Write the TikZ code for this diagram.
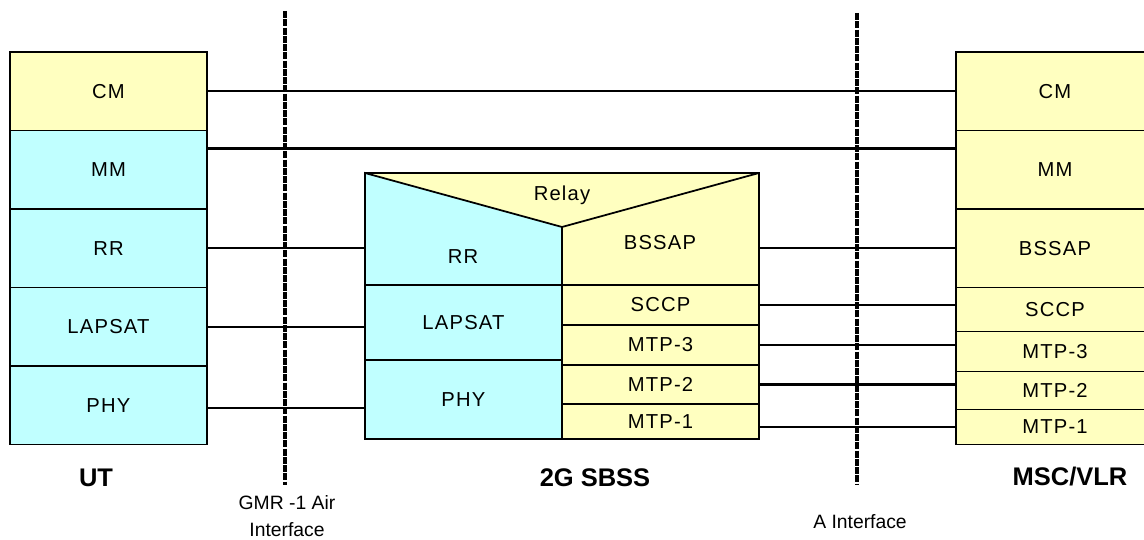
\documentclass[tikz,border=0pt]{standalone}
\usepackage{fontspec}
\setmainfont{Liberation Sans}
\newfontfamily\layerfont[LetterSpace=6]{Liberation Sans}
\usetikzlibrary{positioning}
\definecolor{layeryellow}{RGB}{255,255,192}
\definecolor{layercyan}{RGB}{192,255,255}

\begin{document}
\begin{tikzpicture}[
    x=0.02cm, y=-0.02cm,
    node distance=0pt,
    layer/.style={rectangle, draw=black, line width=1pt, minimum width=3.94cm, minimum height=1.57cm, inner sep=0pt, outer sep=0pt, align=center, font=\layerfont\fontsize{11.5}{13}\selectfont},
    ylayer/.style={layer, fill=layeryellow},
    clayer/.style={layer, fill=layercyan},
    mscw/.style={minimum width=3.96cm},
    label/.style={inner sep=0pt, font=\layerfont\fontsize{11.5}{13}\selectfont},
    link/.style={line width=1.2pt},
    iface/.style={line width=2.2pt, dash pattern=on 4pt off 0.7pt},
    title/.style={font=\fontsize{14.5}{16}\selectfont\bfseries},
    iflabel/.style={align=center, font=\fontsize{11}{15}\selectfont}
]
\useasboundingbox (0,0) rectangle (1144,540);
\clip (0,0) rectangle (1144,540);

% UT stack
\node[ylayer, anchor=north west] (utcm) at (10,52) {CM};
\node[clayer, below=of utcm] (utmm) {MM};
\node[clayer, below=of utmm] (utrr) {RR};
\node[clayer, below=of utrr] (utlapsat) {LAPSAT};
\node[clayer, below=of utlapsat] (utphy) {PHY};

% MSC/VLR stack
\node[ylayer, mscw, anchor=north west] (msccm) at (956,52) {CM};
\node[ylayer, mscw, below=of msccm] (mscmm) {MM};
\node[ylayer, mscw, below=of mscmm] (mscbssap) {BSSAP};
\node[ylayer, mscw, minimum height=0.88cm, below=of mscbssap] (mscsccp) {SCCP};
\node[ylayer, mscw, minimum height=0.80cm, below=of mscsccp] (mscmtp3) {MTP-3};
\node[ylayer, mscw, minimum height=0.76cm, below=of mscmtp3] (mscmtp2) {MTP-2};
\node[ylayer, mscw, minimum height=0.70cm, below=of mscmtp2] (mscmtp1) {MTP-1};

% 2G SBSS block
\node[ylayer, anchor=north west, minimum width=7.88cm, minimum height=5.32cm] (bss) at (365,173) {};
\node[clayer, anchor=north west, minimum height=1.50cm] (sblapsat) at (365,285) {LAPSAT};
\node[clayer, minimum height=1.58cm, below=of sblapsat] (sbphy) {PHY};
\node[ylayer, anchor=north west, minimum height=0.80cm] (sbsccp) at (562,285) {SCCP};
\node[ylayer, minimum height=0.80cm, below=of sbsccp] (sbmtp3) {MTP-3};
\node[ylayer, minimum height=0.78cm, below=of sbmtp3] (sbmtp2) {MTP-2};
\node[ylayer, minimum height=0.70cm, below=of sbmtp2] (sbmtp1) {MTP-1};
\coordinate (apex) at (562,227);
\filldraw[fill=layercyan, line width=1pt] (bss.north west) -- (apex) -- (sblapsat.north east) -- (sblapsat.north west) -- cycle;
\draw[line width=1pt] (apex) -- (bss.north east);
\node[label] (relay) at (562,195) {Relay};
\node[label] (sbrr) at (463,257) {RR};
\node[label] (sbbssap) at (660,243) {BSSAP};

% Peer links
\draw[link] (utcm.east) -- (msccm.west);
\draw[link] ([yshift=-0.36cm]utmm.north east) -- ([yshift=-0.36cm]mscmm.north west);
\draw[link] (utrr.east) -- (utrr.east -| bss.west);
\draw[link] (utlapsat.east) -- (utlapsat.east -| bss.west);
\draw[link] ([yshift=-1.5pt]utphy.east) -- ([yshift=-1.5pt]utphy.east -| bss.west);
\draw[link] (mscbssap.west -| bss.east) -- (mscbssap.west);
\draw[link] (sbsccp.east) -- (sbsccp.east -| mscsccp.west);
\draw[link] (sbmtp3.east) -- (sbmtp3.east -| mscmtp3.west);
\draw[link] (sbmtp2.east) -- (sbmtp2.east -| mscmtp2.west);
\draw[link] (mscmtp1.west -| bss.east) -- (mscmtp1.west);

% Interfaces
\coordinate (airtop) at (285,11);
\coordinate (airbot) at (285,485);
\coordinate (atop) at (857,13);
\coordinate (abot) at (857,485);
\draw[iface] (airtop) -- (airbot);
\draw[iface] (atop) -- (abot);

% Labels
\node[title] (ut) at (96,478) {UT};
\node[title] (sbss) at (595,478) {2G SBSS};
\node[title] (msc) at (1070,477) {MSC/VLR};
\node[iflabel] (airlbl) at (287,516) {GMR -1 Air\\Interface};
\node[iflabel] (alabel) at (860,522) {A Interface};

\end{tikzpicture}
\end{document}
